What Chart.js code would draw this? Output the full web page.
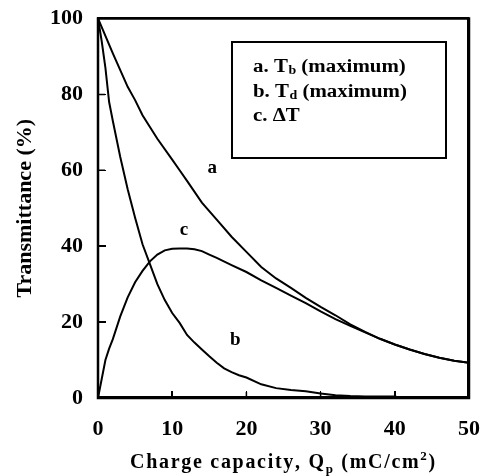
<!DOCTYPE html>
<html>
<head>
<meta charset="utf-8">
<script src="https://cdn.jsdelivr.net/npm/chart.js@4.4.1/dist/chart.umd.min.js"></script>
<style>
  html, body { margin: 0; padding: 0; background: #fff; }
  #wrap { width: 482px; height: 476px; position: relative; }
  .frame { position: absolute; border: 2.5px solid #000; pointer-events: none; box-sizing: content-box; }
  .tick { position: absolute; background: #000; pointer-events: none; }
  #err { position: absolute; left: 110px; top: 170px; width: 340px; font: 12px monospace; color: #c00; }
</style>
</head>
<body>
<div id="wrap"><canvas id="chart" width="482" height="476"></canvas><div id="err"></div></div>
<script>
function report(msg) {
    document.getElementById('err').textContent += msg + ' | ';
}
window.onerror = function (m, s, l, c) { report(m + ' @' + l + ':' + c); };

// curve a: Tb (maximum)
const xA = [0, 2, 4, 5, 6, 8, 10, 11, 12, 14, 16, 18, 20, 22, 24, 26, 28, 30, 32, 34, 36, 38, 40, 42, 44, 46, 48, 50];
const yA = [100, 90.8, 82, 78.5, 74.5, 68.3, 62.8, 60, 57.2, 51.5, 47, 42.5, 38.5, 34.5, 31.5, 29, 26.4, 24, 21.8, 19.4, 17.4, 15.6, 14.1, 12.8, 11.6, 10.6, 9.8, 9.3];

// curve b: Td (maximum)
const xB = [0, 0.5, 1, 1.5, 2, 3, 4, 5, 6, 7, 8, 9, 10, 11, 12, 13, 14, 15, 16, 17, 18, 19, 20, 22, 24, 26, 28, 30, 32, 34, 36, 38, 40, 41];
const yB = [100, 94, 87, 78, 73, 63.5, 55, 47.5, 40.5, 35.3, 30, 25.8, 22.4, 19.8, 16.6, 14.6, 12.8, 11, 9.3, 7.8, 6.8, 6, 5.4, 3.6, 2.6, 2.1, 1.8, 1.2, 0.7, 0.5, 0.4, 0.4, 0.4, 0];

// curve c: delta T
const xC = [0, 0.5, 1, 1.5, 2, 3, 4, 5, 6, 7, 8, 9, 10, 11, 12, 13, 14, 15, 16, 18, 20, 22, 24, 26, 28, 30, 32, 34, 36, 38, 40, 42, 44, 46, 48, 50];
const yC = [0, 5, 10, 13, 15.5, 21.5, 26.5, 30.5, 33.5, 36, 37.8, 38.9, 39.3, 39.4, 39.4, 39.2, 38.7, 37.8, 36.9, 35, 33.2, 31, 29, 27, 25, 22.8, 20.8, 19, 17.3, 15.6, 14.1, 12.8, 11.6, 10.6, 9.8, 9.3];

const xTicks = [0, 10, 20, 30, 40, 50];
const yTicks = [0, 20, 40, 60, 80, 100];

const curveTags = ['a', 'b', 'c'];
const tagX = [15.4, 18.5, 11.6];
const tagY = [60.5, 15.3, 44.2];

const serif = '"Liberation Serif", "Times New Roman", serif';
const stretch = 1.16; // the legend text is a bit wide in the original

function pts(xs, ys) {
    return xs.map((x, i) => ({ x: x, y: ys[i] }));
}

function lineSet(xs, ys) {
    return {
        data: pts(xs, ys),
        showLine: true,
        borderColor: '#000',
        borderWidth: 2,
        pointRadius: 0,
        tension: 0
    };
}

// draw text char by char with extra spacing, returns end x
function spaced(ctx, str, x, y, gap) {
    for (const ch of str) {
        ctx.fillText(ch, x, y);
        x += ctx.measureText(ch).width + gap;
    }
    return x;
}

function spacedWidth(ctx, str, gap) {
    let w = 0;
    for (const ch of str) w += ctx.measureText(ch).width + gap;
    return w;
}

// no extra room for overhanging tick labels, layout padding decides the plot box
function noScalePadding(scale) {
    scale.paddingLeft = 0;
    scale.paddingRight = 0;
    scale.paddingTop = 0;
    scale.paddingBottom = 0;
}

function drawFrame(chart) {
    const ctx = chart.ctx;
    const a = chart.chartArea;
    ctx.save();
    ctx.strokeStyle = '#000';
    ctx.lineWidth = 2.5;
    ctx.beginPath();
    ctx.rect(a.left, a.top, a.right - a.left, a.bottom - a.top);
    ctx.stroke();
    ctx.lineWidth = 1.5;
    ctx.beginPath();
    xTicks.slice(1, -1).forEach(v => {
        const px = chart.scales.x.getPixelForValue(v);
        ctx.moveTo(px, a.bottom);
        ctx.lineTo(px, a.bottom - 6);
    });
    yTicks.slice(1, -1).forEach(v => {
        const py = chart.scales.y.getPixelForValue(v);
        ctx.moveTo(a.left, py);
        ctx.lineTo(a.left + 7, py);
    });
    ctx.stroke();
    ctx.restore();
}

const decorations = {
    id: 'decorations',
    afterDraw(chart) {
        try {
            drawFrame(chart);
        } catch (e) { report('frame: ' + e.message); }
        try {
            const ctx = chart.ctx;
            const area = chart.chartArea;
            const xs = chart.scales.x, ys = chart.scales.y;
            ctx.save();
            ctx.strokeStyle = '#000';
            ctx.fillStyle = '#000';

            // curve tags
            ctx.font = 'bold 19px ' + serif;
            ctx.textAlign = 'center';
            ctx.textBaseline = 'middle';
            curveTags.forEach((t, i) => {
                ctx.fillText(t, xs.getPixelForValue(tagX[i]), ys.getPixelForValue(tagY[i]));
            });

            // legend box
            ctx.lineWidth = 2;
            ctx.beginPath();
            ctx.rect(232, 42, 214, 116);
            ctx.stroke();
            ctx.textAlign = 'left';
            ctx.textBaseline = 'alphabetic';
            const rows = [['a. T', 'b', ' (maximum)'], ['b. T', 'd', ' (maximum)'], ['c. \u0394T', '', '']];
            rows.forEach((r, i) => {
                ctx.save();
                ctx.translate(253, 72 + i * 24.5);
                ctx.scale(stretch, 1);
                ctx.font = 'bold 18px ' + serif;
                ctx.fillText(r[0], 0, 0);
                let x = ctx.measureText(r[0]).width;
                if (r[1]) {
                    ctx.font = 'bold 12px ' + serif;
                    ctx.fillText(r[1], x + 0.5, 2);
                    x += ctx.measureText(r[1]).width + 0.5;
                    ctx.font = 'bold 18px ' + serif;
                    ctx.fillText(r[2], x, 0);
                }
                ctx.restore();
            });

            // x axis title
            const gap = 1.7;
            const big = 'bold 20px ' + serif, small = 'bold 13px ' + serif;
            const parts = [['Charge capacity, Q', big, 0], ['p', small, 5], [' (mC/cm', big, 0], ['2', small, -8], [')', big, 0]];
            let total = 0;
            parts.forEach(p => { ctx.font = p[1]; total += spacedWidth(ctx, p[0], gap); });
            let tx = (area.left + area.right) / 2 - total / 2;
            parts.forEach(p => {
                ctx.font = p[1];
                tx = spaced(ctx, p[0], tx, 468 + p[2], gap);
            });

            // y axis title
            ctx.translate(25, (area.top + area.bottom) / 2);
            ctx.rotate(-Math.PI / 2);
            ctx.font = 'bold 22px ' + serif;
            ctx.textAlign = 'center';
            ctx.textBaseline = 'middle';
            ctx.fillText('Transmittance (%)', 0, 0);
            ctx.restore();
        } catch (e) { report('deco: ' + e.message); }
    }
};

const tickFont = { family: serif, size: 22, weight: 'bold' };

let chart = null;
try {
    chart = new Chart(document.getElementById('chart').getContext('2d'), {
        type: 'scatter',
        data: {
            datasets: [lineSet(xA, yA), lineSet(xB, yB), lineSet(xC, yC)]
        },
        options: {
            responsive: false,
            animation: false,
            devicePixelRatio: 1,
            layout: { padding: { left: 0, top: 18.5, right: 13, bottom: 0 } },
            plugins: {
                legend: { display: false },
                tooltip: { enabled: false }
            },
            scales: {
                x: {
                    type: 'linear',
                    min: 0,
                    max: 50,
                    afterFit(scale) { scale.height = 78; noScalePadding(scale); },
                    afterBuildTicks(scale) { scale.ticks = xTicks.map(v => ({ value: v })); },
                    grid: { display: false, drawTicks: false },
                    border: { display: false },
                    ticks: { padding: 18, color: '#000', font: tickFont }
                },
                y: {
                    type: 'linear',
                    min: 0,
                    max: 100,
                    afterFit(scale) { scale.width = 98; noScalePadding(scale); },
                    afterBuildTicks(scale) { scale.ticks = yTicks.map(v => ({ value: v })); },
                    grid: { display: false, drawTicks: false },
                    border: { display: false },
                    ticks: { padding: 15, color: '#000', font: tickFont }
                }
            }
        },
        plugins: [decorations]
    });
} catch (e) { report('chart: ' + e.message); }

// plot frame and inward tick marks laid over the canvas, placed from the chart's own scales
try {
    const wrap = document.getElementById('wrap');
    const a = chart.chartArea;
    const f = document.createElement('div');
    f.className = 'frame';
    f.style.left = (a.left - 1.25) + 'px';
    f.style.top = (a.top - 1.25) + 'px';
    f.style.width = (a.right - a.left - 2.5) + 'px';
    f.style.height = (a.bottom - a.top - 2.5) + 'px';
    wrap.appendChild(f);
    xTicks.slice(1, -1).forEach(v => {
        const t = document.createElement('div');
        t.className = 'tick';
        t.style.left = (chart.scales.x.getPixelForValue(v) - 0.75) + 'px';
        t.style.top = (a.bottom - 7) + 'px';
        t.style.width = '1.5px';
        t.style.height = '6px';
        wrap.appendChild(t);
    });
    yTicks.slice(1, -1).forEach(v => {
        const t = document.createElement('div');
        t.className = 'tick';
        t.style.left = (a.left + 1) + 'px';
        t.style.top = (chart.scales.y.getPixelForValue(v) - 0.75) + 'px';
        t.style.width = '7px';
        t.style.height = '1.5px';
        wrap.appendChild(t);
    });
} catch (e) { report('overlay: ' + e.message); }
</script>
</body>
</html>
